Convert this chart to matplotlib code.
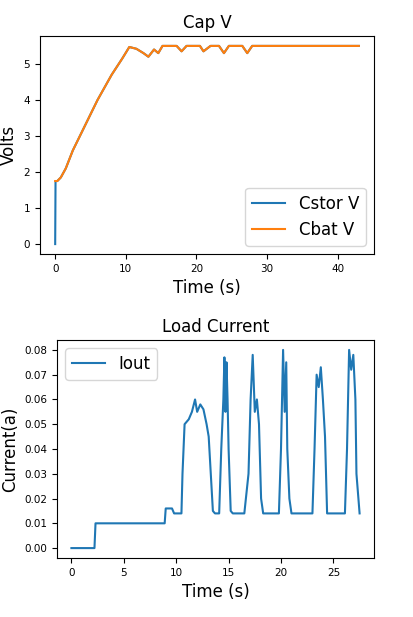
import matplotlib
matplotlib.use("Agg")
import matplotlib.pyplot as plt

# Cap voltage (both series overlap)
cap_t = [0, 0.05, 0.3, 0.8, 1.5, 2.5, 4, 6, 8, 9.5, 10.5, 11.5, 12.5, 13.2, 14, 14.6, 15.2, 16, 17.2, 17.9, 18.6, 19.5, 20.5, 21, 22, 23.2, 23.9, 24.6, 25.5, 26.5, 27.2, 27.9, 30, 35, 40, 43]
cstor_v = [0, 1.75, 1.75, 1.85, 2.1, 2.6, 3.2, 4.0, 4.7, 5.15, 5.47, 5.42, 5.3, 5.2, 5.4, 5.3, 5.5, 5.5, 5.5, 5.35, 5.5, 5.5, 5.5, 5.35, 5.5, 5.5, 5.3, 5.5, 5.5, 5.5, 5.3, 5.5, 5.5, 5.5, 5.5, 5.5]
cbat_v = [1.75] + cstor_v[1:]

# Load current
cur_t = [0, 2.2, 2.3, 6, 8.9, 9.0, 9.6, 9.8, 10.5, 10.6, 10.8, 11.2, 11.5, 11.8, 12.0, 12.3, 12.6, 12.9, 13.1, 13.3, 13.5, 13.7, 14.1, 14.3, 14.5, 14.6, 14.7, 14.8, 14.9, 15.0, 15.2, 15.4, 16.5, 16.9, 17.1, 17.3, 17.5, 17.7, 17.9, 18.1, 18.3, 19.8, 20.0, 20.2, 20.35, 20.5, 20.6, 20.8, 21.0, 23.0, 23.2, 23.4, 23.6, 23.8, 24.0, 24.2, 24.4, 26.1, 26.3, 26.5, 26.7, 26.9, 27.1, 27.2, 27.5]
iout = [0, 0, 0.01, 0.01, 0.01, 0.016, 0.016, 0.014, 0.014, 0.03, 0.05, 0.052, 0.055, 0.06, 0.055, 0.058, 0.056, 0.05, 0.045, 0.03, 0.015, 0.014, 0.014, 0.04, 0.06, 0.077, 0.055, 0.075, 0.06, 0.04, 0.015, 0.014, 0.014, 0.03, 0.06, 0.078, 0.055, 0.06, 0.05, 0.02, 0.014, 0.014, 0.04, 0.08, 0.055, 0.075, 0.04, 0.02, 0.014, 0.014, 0.04, 0.07, 0.065, 0.073, 0.06, 0.045, 0.014, 0.014, 0.04, 0.08, 0.072, 0.078, 0.06, 0.03, 0.014]

fig = plt.figure(figsize=(4.14, 6.17), dpi=100)
ax1 = fig.add_axes([40/414, 1-254/617, 334/414, 218/617])
ax1.plot(cap_t, cstor_v, label="Cstor V")
ax1.plot(cap_t, cbat_v, label="Cbat V")
ax1.set_title("Cap V", fontsize=12)
ax1.set_xlabel("Time (s)", fontsize=12)
ax1.set_ylabel("Volts", fontsize=12)
ax1.tick_params(labelsize=7.5)
ax1.legend(loc="lower right", fontsize=12)

ax2 = fig.add_axes([57/414, 1-558/617, 317/414, 218/617])
ax2.plot(cur_t, iout, label="Iout")
ax2.set_title("Load Current", fontsize=12)
ax2.set_xlabel("Time (s)", fontsize=12)
ax2.set_ylabel("Current(a)", fontsize=12)
ax2.tick_params(labelsize=7.5)
ax2.legend(loc="upper left", fontsize=12)

fig.savefig("out.png")
